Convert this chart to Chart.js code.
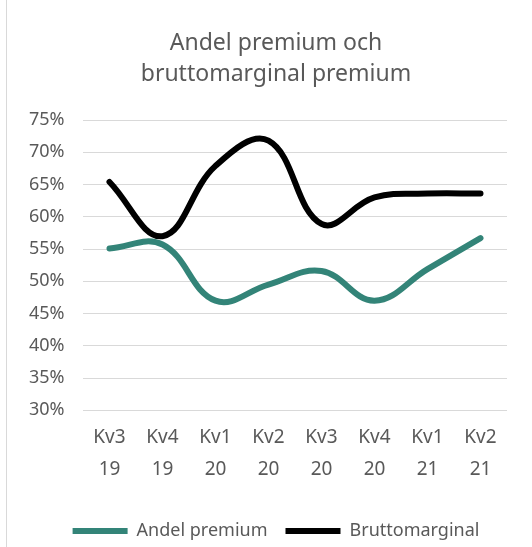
<!DOCTYPE html>
<html>
<head>
<meta charset="utf-8">
<script src="https://cdn.jsdelivr.net/npm/chart.js@4"></script>
<style>
  html, body { margin: 0; padding: 0; background: #fff; }
  .wrap { position: relative; width: 532px; height: 547px; }
  .wrap::before { content: ""; position: absolute; left: 6px; top: 0; bottom: 0; border-left: 1px solid #d9d9d9; }
</style>
</head>
<body>
<div class="wrap"><canvas id="myChart" width="532" height="547"></canvas></div>
<script>
const quarters = [["Kv3", "19"], ["Kv4", "19"], ["Kv1", "20"], ["Kv2", "20"], ["Kv3", "20"], ["Kv4", "20"], ["Kv1", "21"], ["Kv2", "21"]];
const andelPremium = [55.1, 55.7, 47.0, 49.5, 51.6, 47.0, 51.9, 56.7];
const bruttomarginal = [65.4, 57.0, 67.9, 71.8, 58.9, 63.0, 63.6, 63.6];

const grey = "#595959";
const font = "'Noto Sans', sans-serif";

const ctx = document.getElementById("myChart");

new Chart(ctx, {
  type: "line",
  data: {
    labels: quarters,
    datasets: [
      {
        label: "Andel premium",
        data: andelPremium,
        borderColor: "#338478",
        backgroundColor: "#338478",
        borderWidth: 6,
        borderCapStyle: "round",
        pointRadius: 0,
        tension: 0.4,
      },
      {
        label: "Bruttomarginal",
        data: bruttomarginal,
        borderColor: "#000000",
        backgroundColor: "#000000",
        borderWidth: 6,
        borderCapStyle: "round",
        pointRadius: 0,
        tension: 0.4,
      },
    ],
  },
  options: {
    responsive: false,
    animation: false,
    layout: {
      padding: { left: 45, right: 25, top: 28, bottom: -3 },
    },
    scales: {
      x: {
        offset: true,
        grid: { display: false },
        border: { display: false },
        // extra room between the quarter labels and the legend
        afterFit: (scale) => { scale.height += 15; },
        ticks: {
          color: grey,
          font: { family: font, size: 19, lineHeight: 1.65 },
          padding: 4,
          maxRotation: 0,
        },
      },
      y: {
        min: 30,
        max: 75,
        grid: { color: "#d9d9d9", lineWidth: 1, drawTicks: false },
        border: { display: false },
        // labels hang into the left padding so title and legend centre like the original
        afterFit: (scale) => { scale.width = 38; },
        ticks: {
          stepSize: 5,
          mirror: true,
          padding: -54,
          color: grey,
          font: { family: font, size: 18 },
          callback: (v) => v + "%",
        },
      },
    },
    plugins: {
      title: {
        display: true,
        text: ["Andel premium och", "bruttomarginal premium"],
        color: grey,
        font: { family: font, size: 23, weight: "normal", lineHeight: 1.35 },
        padding: { top: 0, bottom: 30 },
      },
      legend: {
        position: "bottom",
        labels: {
          color: grey,
          font: { family: font, size: 18, lineHeight: 1 },
          usePointStyle: true,
          pointStyle: "line",
          pointStyleWidth: 55,
          boxHeight: 18,
          padding: 18,
        },
      },
    },
  },
});
</script>
</body>
</html>
